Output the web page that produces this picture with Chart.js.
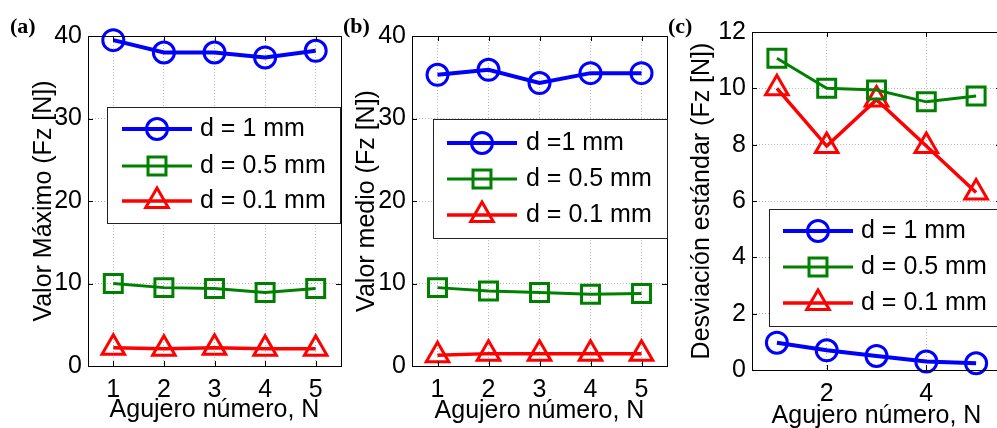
<!DOCTYPE html>
<html>
<head>
<meta charset="utf-8">
<script src="https://cdn.jsdelivr.net/npm/chart.js@4.4.0/dist/chart.umd.min.js"></script>
<style>
  html, body { margin: 0; padding: 0; background: #fff; overflow: hidden; width: 997px; height: 428px; }
  .panel { position: absolute; top: 0; height: 428px; }
  .tag { position: absolute; top: 15px; font: bold 22px "Liberation Serif", "Times New Roman", serif; line-height: 1; }
</style>
</head>
<body>
<div class="panel" style="left:0px;width:345px"><canvas id="chartA" width="345" height="428"></canvas></div>
<div class="panel" style="left:345px;width:326px"><canvas id="chartB" width="326" height="428"></canvas></div>
<div class="panel" style="left:671px;width:334px"><canvas id="chartC" width="334" height="428"></canvas></div>
<div class="tag" style="left:10px">(a)</div>
<div class="tag" style="left:343px">(b)</div>
<div class="tag" style="left:668px">(c)</div>
<script>
// hole number on the x axis
const holes = [1, 2, 3, 4, 5];
const xTicksAB = [1, 2, 3, 4, 5];
const xTicksC = [2, 4];

// (a) valor maximo
const maxD1 = [39.5, 38.0, 38.0, 37.4, 38.2];
const maxD05 = [10.0, 9.5, 9.4, 8.9, 9.4];
const maxD01 = [2.2, 2.1, 2.2, 2.1, 2.1];

// (b) valor medio
const meanD1 = [35.3, 35.9, 34.3, 35.5, 35.5];
const meanD05 = [9.5, 9.1, 8.9, 8.7, 8.8];
const meanD01 = [1.3, 1.5, 1.5, 1.5, 1.5];

// (c) desviacion estandar
const stdD1 = [0.97, 0.7, 0.5, 0.3, 0.24];
const stdD05 = [11.07, 10.0, 9.94, 9.52, 9.73];
const stdD01 = [10.0, 7.95, 9.6, 7.95, 6.3];

const labelsAC = ["d = 1 mm", "d = 0.5 mm", "d = 0.1 mm"];
const labelsB = ["d =1 mm", "d = 0.5 mm", "d = 0.1 mm"];

const FONT = "'Liberation Sans', Arial, sans-serif";
Chart.defaults.font.family = FONT;
Chart.defaults.font.size = 25;
Chart.defaults.color = "#000";

function marker(ctx, style, r, x, y) {
  ctx.beginPath();
  if (style === "circle") {
    ctx.arc(x, y, r, 0, Math.PI * 2);
  } else if (style === "rect") {
    const s = r * Math.SQRT1_2;
    ctx.rect(x - s, y - s, 2 * s, 2 * s);
  } else {
    const w = r * Math.sqrt(3) / 2;
    ctx.moveTo(x, y - r);
    ctx.lineTo(x + w, y + r / 2);
    ctx.lineTo(x - w, y + r / 2);
    ctx.closePath();
  }
  ctx.stroke();
}

// box, inner ticks and legend like matlab
const matlabBox = {
  id: "matlabBox",
  afterDatasetsDraw(chart, args, opts) {
    const { ctx, chartArea: a } = chart;
    const x = chart.scales.x, y = chart.scales.y;
    ctx.save();
    ctx.strokeStyle = "#000";
    ctx.lineWidth = 1;
    ctx.strokeRect(a.left + 0.5, a.top + 0.5, a.right - a.left, a.bottom - a.top);
    ctx.beginPath();
    x.ticks.forEach(t => {
      const px = Math.round(x.getPixelForValue(t.value)) + 0.5;
      ctx.moveTo(px, a.bottom); ctx.lineTo(px, a.bottom - 5);
      ctx.moveTo(px, a.top); ctx.lineTo(px, a.top + 5);
    });
    y.ticks.forEach(t => {
      const py = Math.round(y.getPixelForValue(t.value)) + 0.5;
      ctx.moveTo(a.left, py); ctx.lineTo(a.left + 5, py);
      ctx.moveTo(a.right, py); ctx.lineTo(a.right - 5, py);
    });
    ctx.stroke();

    const L = opts.legend;
    ctx.fillStyle = "#fff";
    ctx.fillRect(L.left, L.top, L.right - L.left, L.bottom - L.top);
    ctx.strokeStyle = "#222";
    ctx.strokeRect(L.left + 0.5, L.top + 0.5, L.right - L.left, L.bottom - L.top);
    chart.data.datasets.forEach((ds, i) => {
      const yy = L.rows[i];
      ctx.strokeStyle = ds.borderColor;
      ctx.lineWidth = ds.borderWidth;
      ctx.beginPath();
      ctx.moveTo(L.x0, yy); ctx.lineTo(L.x1, yy);
      ctx.stroke();
      ctx.lineWidth = ds.pointBorderWidth;
      marker(ctx, ds.pointStyle, ds.pointRadius, (L.x0 + L.x1) / 2, yy);
      ctx.fillStyle = "#000";
      ctx.font = "25px " + FONT;
      ctx.textBaseline = "middle";
      ctx.fillText(ds.label, L.textX, yy);
    });
    ctx.restore();
  }
};

function series(label, values, color, style, lw, r) {
  return {
    label: label,
    data: holes.map((h, i) => ({ x: h, y: values[i] })),
    borderColor: color,
    borderWidth: lw,
    pointStyle: style,
    pointRadius: r,
    pointHoverRadius: r,
    pointBorderWidth: 3,
    pointBorderColor: color,
    pointBackgroundColor: "rgba(0,0,0,0)",
    tension: 0,
    clip: false
  };
}

function makeChart(id, p) {
  return new Chart(document.getElementById(id), {
    type: "line",
    data: {
      datasets: [
        series(p.labels[0], p.d1, "#0000ff", "circle", 4, 10.5),
        series(p.labels[1], p.d05, "#008000", "rect", 3, 12.7),
        series(p.labels[2], p.d01, "#ff0000", "triangle", 3.5, 13)
      ]
    },
    options: {
      responsive: false,
      animation: false,
      events: [],
      layout: { autoPadding: false, padding: { top: p.top, right: 4, left: 0, bottom: 0 } },
      plugins: { legend: { display: false }, tooltip: { enabled: false }, matlabBox: { legend: p.legend } },
      scales: {
        x: {
          type: "linear", min: 0.5, max: 5.5,
          afterBuildTicks: s => { s.ticks = p.xTicks.map(v => ({ value: v })); },
          ticks: { padding: 9 },
          grid: { color: "#b8b8b8", drawTicks: false },
          border: { color: "#000", dash: [1, 2] },
          title: { display: true, text: "Agujero número, N", padding: { top: 0, bottom: p.xTitlePad } },
          afterFit: s => { s.height = p.xHeight; }
        },
        y: {
          min: 0, max: p.yMax,
          ticks: { stepSize: p.yStep, padding: 6 },
          grid: { color: "#b8b8b8", drawTicks: false },
          border: { color: "#000", dash: [1, 2] },
          title: { display: true, text: p.yTitle, padding: { top: p.yTitlePad, bottom: 0 } },
          afterFit: s => { s.width = p.yWidth; }
        }
      }
    },
    plugins: [matlabBox]
  });
}

makeChart("chartA", {
  labels: labelsAC, d1: maxD1, d05: maxD05, d01: maxD01, xTicks: xTicksAB,
  yMax: 40, yStep: 10, top: 36, xHeight: 62, yWidth: 88,
  yTitle: "Valor Máximo (Fz [N])", yTitlePad: 29, xTitlePad: 3,
  legend: { left: 107, top: 107, right: 340, bottom: 223, x0: 122, x1: 192, textX: 200, rows: [129, 166, 201] }
});

makeChart("chartB", {
  labels: labelsB, d1: meanD1, d05: meanD05, d01: meanD01, xTicks: xTicksAB,
  yMax: 40, yStep: 10, top: 36, xHeight: 62, yWidth: 67,
  yTitle: "Valor medio (Fz [N])", yTitlePad: 7, xTitlePad: 2,
  legend: { left: 88, top: 119, right: 322, bottom: 238, x0: 102, x1: 172, textX: 181, rows: [143, 179, 215] }
});

makeChart("chartC", {
  labels: labelsAC, d1: stdD1, d05: stdD05, d01: stdD01, xTicks: xTicksC,
  yMax: 12, yStep: 2, top: 32, xHeight: 58, yWidth: 81,
  yTitle: "Desviación estándar (Fz [N])", yTitlePad: 16, xTitlePad: -3,
  legend: { left: 98, top: 209, right: 340, bottom: 326, x0: 112, x1: 182, textX: 190, rows: [231, 267, 303] }
});
</script>
</body>
</html>
